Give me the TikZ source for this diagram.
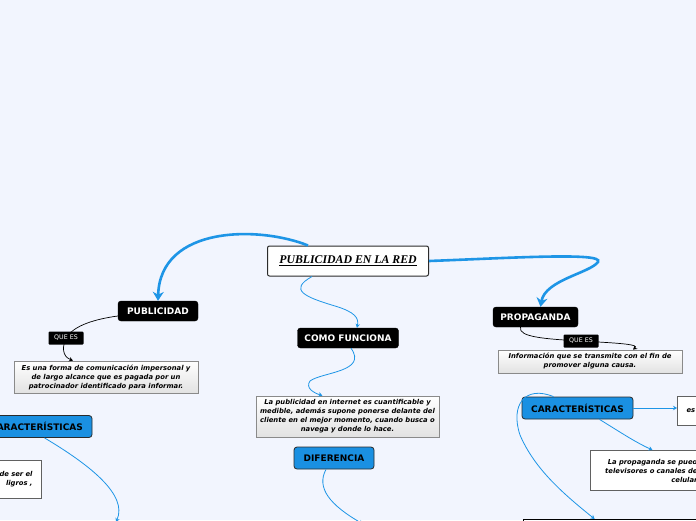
\documentclass[tikz,border=0pt]{standalone}
\usepackage{fontspec}
\setmainfont{DejaVu Sans}
\newfontfamily\titlefont{Liberation Serif}
\usetikzlibrary{arrows.meta}
\definecolor{mapBack}{HTML}{F2F5FE}
\definecolor{mapBlue}{HTML}{1E95E6}
\definecolor{mapBlueBox}{HTML}{1A90E2}
\definecolor{mapBorder}{HTML}{2B2B2B}
\definecolor{mapGray}{HTML}{8A8A8A}
\definecolor{mapShade}{HTML}{E2E2E2}

\begin{document}
\begin{tikzpicture}[x=1pt, y=-1pt,
    mainTopic/.style={draw=mapBorder, line width=1pt, rectangle, rounded corners=2pt, fill=white, font=\titlefont\fontsize{11.8}{14}\selectfont\bfseries\itshape, minimum width=161pt, minimum height=30pt, inner sep=0pt},
    blackTopic/.style={draw=black, rectangle, rounded corners=3pt, fill=black, text=white, font=\fontsize{9}{10}\selectfont\bfseries, minimum height=20pt, inner sep=0pt},
    blueTopic/.style={draw=mapBorder, line width=0.8pt, rectangle, rounded corners=3pt, fill=mapBlueBox, text=black, font=\fontsize{9}{10}\selectfont\bfseries, minimum height=22pt, inner sep=0pt},
    tagBox/.style={fill=black, rounded corners=1pt, text=white, font=\fontsize{6.3}{7}\selectfont, minimum width=35pt, minimum height=13pt, inner sep=0pt},
    descBox/.style={draw=mapGray, line width=0.8pt, rectangle, top color=white, bottom color=mapShade, align=center, font=\fontsize{6.8}{9}\selectfont\bfseries\itshape, inner sep=0pt},
    noteBox/.style={draw=mapGray!70!black, line width=1pt, rectangle, fill=white, font=\fontsize{6.8}{9}\selectfont\bfseries\itshape, inner ysep=0pt},
    mainLink/.style={draw=mapBlue, line width=2.6pt, -{Stealth[length=9pt, width=11pt, inset=3pt]}},
    subLink/.style={draw=mapBlue, line width=0.8pt, -{Stealth[length=4pt, width=4.5pt]}},
    tagLink/.style={draw=black, line width=0.7pt, -{Stealth[length=4pt, width=4.5pt]}},
]
\fill[mapBack] (0,0) rectangle (696,520);
\useasboundingbox (0,0) rectangle (696,520);
\clip (0,0) rectangle (696,520);

\node[mainTopic] (red) at (348,261) {\underline{PUBLICIDAD EN LA RED}};

\node[blackTopic, minimum width=80pt] (publi) at (158,311) {PUBLICIDAD};
\node[descBox, minimum width=184pt, minimum height=32pt] (defPubli) at (106,377) {
    Es una forma de comunicación impersonal y\\
    de largo alcance que es pagada por un\\
    patrocinador identificado para informar.};
\node[blueTopic, minimum width=111pt] (caracL) at (36.5,426.5) {CARACTERÍSTICAS};
\node[noteBox, anchor=north east, text width=80pt, align=right, inner xsep=9pt, minimum height=38pt] (notaL) at (42,460) {de ser el\\ligros ,\hspace*{5pt}};
\coordinate (lowL) at (116,522);

\node[blackTopic, minimum width=101pt] (funciona) at (348,338) {COMO FUNCIONA};
\node[descBox, minimum width=183pt, minimum height=41pt] (defFunciona) at (347.5,416.5) {
    La publicidad en internet es cuantificable y\\
    medible, además supone ponerse delante del\\
    cliente en el mejor momento, cuando busca o\\
    navega y donde lo hace.};
\node[blueTopic, minimum width=80pt] (difer) at (334,458) {DIFERENCIA};
\coordinate (lowM) at (363,524);

\node[blackTopic, minimum width=85pt] (propa) at (535.5,317) {PROPAGANDA};
\node[descBox, minimum width=184pt, minimum height=23pt] (defPropa) at (590,361.5) {
    Información que se transmite con el fin de\\
    promover alguna causa.};
\node[blueTopic, minimum width=111pt] (caracR) at (577.5,408) {CARACTERÍSTICAS};
\node[noteBox, anchor=north west, text width=40pt, align=left, inner xsep=9pt, minimum height=29pt] (notaEs) at (677,396) {es};
\node[noteBox, anchor=north west, text width=102pt, align=right, inner xsep=5pt, minimum height=40pt] (notaMedios) at (590,450) {La propaganda se pued\\televisores o canales de\\celular};
\node[draw=black, line width=1.2pt, fill=white, anchor=north west, minimum width=200pt, minimum height=40pt] (bottomBox) at (523,519) {};

\draw[mainLink] ([xshift=-40pt]red.north) .. controls (260,226) and (160,225) .. (publi.north);
\draw[mainLink] (red.east) .. controls (510,258) and (605,252) .. (598,262) .. controls (590,273) and (545,280) .. ([xshift=5pt]propa.north);
\draw[subLink] ([xshift=-36pt]red.south) .. controls (288,290) and (305,297) .. (335,306) .. controls (355,312) and (359,318) .. ([xshift=9pt]funciona.north);

\draw[tagLink] ([yshift=-5pt]publi.west) .. controls (96,319) and (74,325) .. (66,338) node[tagBox] (queEsL) {QUE ES} .. controls (60,352) and (66,358) .. ([xshift=-33pt]defPubli.north);
\draw[subLink] ([xshift=8pt]caracL.south) .. controls (90,465) and (128,495) .. (lowL);

\draw[subLink] ([xshift=3pt]funciona.south) .. controls (368,372) and (322,372) .. (310,381) .. controls (305,388) and (314,393) .. ([xshift=-25pt]defFunciona.north);
\draw[subLink] ([xshift=-8pt]difer.south) .. controls (316,488) and (330,505) .. (lowM);

\draw[tagLink] ([xshift=-15pt]propa.south) .. controls (518,337) and (545,339) .. (581,341) node[tagBox] (queEsR) {QUE ES} .. controls (615,343) and (640,344) .. ([xshift=43pt]defPropa.north);
\draw[subLink] (caracR.east) -- (caracR.east -| notaEs.west);
\draw[subLink] ([xshift=22pt]caracR.south) .. controls (620,432) and (635,442) .. ([xshift=6pt]notaMedios.north);
\draw[subLink] ([xshift=-24pt]caracR.north) .. controls (525,385) and (510,405) .. (520,435) .. controls (535,470) and (565,495) .. ([xshift=-29pt]bottomBox.north);
\end{tikzpicture}
\end{document}
